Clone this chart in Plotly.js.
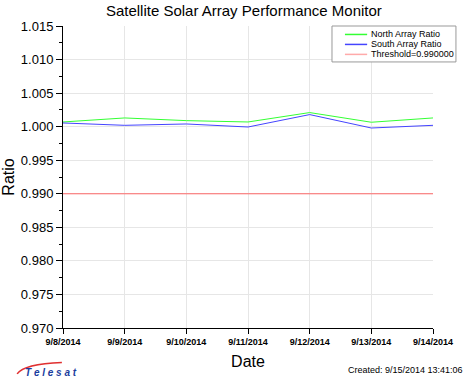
<!DOCTYPE html>
<html><head><meta charset="utf-8">
<script src="https://cdn.plot.ly/plotly-3.0.1.min.js"></script>
<style>html,body{margin:0;padding:0;background:#fff;}#chart{width:469px;height:379px;}</style>
</head><body><div id="chart"></div>
<script>
const dates = ["9/8/2014","9/9/2014","9/10/2014","9/11/2014","9/12/2014","9/13/2014","9/14/2014"];
const northRatio = [1.0007, 1.0013, 1.0009, 1.0007, 1.0021, 1.00066, 1.0013];
const southRatio = [1.00055, 1.0002, 1.0004, 0.99995, 1.0018, 0.9998, 1.0002];
const thresholdValue = 0.99;
const thresholdSeries = dates.map(() => thresholdValue);
const yTicks = [0.970,0.975,0.980,0.985,0.990,0.995,1.000,1.005,1.010,1.015];
const seriesNames = ['North Array Ratio', 'South Array Ratio', 'Threshold=' + thresholdValue.toFixed(6)];
const seriesColors = ['#33ff33', '#4444ff', '#ff6a6a'];

const traces = [
  {x: dates, y: northRatio, type:'scatter', mode:'lines', name:seriesNames[0], line:{color:seriesColors[0], width:1}},
  {x: dates, y: southRatio, type:'scatter', mode:'lines', name:seriesNames[1], line:{color:seriesColors[1], width:1}},
  {x: dates, y: thresholdSeries, type:'scatter', mode:'lines', name:seriesNames[2], line:{color:seriesColors[2], width:1}}
];

// manual legend (compact, like the reference)
const legX0 = 0.727, legX1 = 1.062, legY0 = 0.881, legY1 = 1.0;
const legLineX0 = 0.762, legLineX1 = 0.822, legTextX = 0.826;
const legRows = [0.972, 0.939, 0.906];
const shapes = [
  {type:'rect', xref:'paper', yref:'paper', x0:legX0, x1:legX1, y0:legY0, y1:legY1, fillcolor:'#fff', line:{color:'#999', width:1}, layer:'above'},
  {type:'path', xref:'paper', yref:'paper', path:'M -0.124,-0.152 Q -0.105,-0.118 -0.003,-0.114', line:{color:'#e03030', width:1.5}}
];
const annotations = [];
seriesNames.forEach((n, i) => {
  shapes.push({type:'line', xref:'paper', yref:'paper', x0:legLineX0, x1:legLineX1, y0:legRows[i], y1:legRows[i], line:{color:i === 2 ? '#ffaaaa' : seriesColors[i], width:1.5}, layer:'above'});
  annotations.push({xref:'paper', yref:'paper', x:legTextX, y:legRows[i], xanchor:'left', yanchor:'middle', showarrow:false, text:n, font:{size:9, color:'#000'}});
});
annotations.push(
  {xref:'paper', yref:'paper', x:1.086, y:-0.139, xanchor:'right', yanchor:'middle', showarrow:false,
   text:'Created: 9/15/2014 13:41:06', font:{size:9, color:'#000'}},
  {xref:'paper', yref:'paper', x:-0.032, y:-0.149, xanchor:'center', yanchor:'middle', showarrow:false,
   text:'<b><i>T e l e s a t</i></b>', font:{size:10, color:'#1a3d9e', family:'Liberation Sans, Arial'}}
);

const layout = {
  width:469, height:379,
  margin:{l:63, r:36, t:26, b:51, pad:0},
  paper_bgcolor:'#fff', plot_bgcolor:'#fff',
  font:{family:'Liberation Sans, Arial, sans-serif', color:'#000'},
  title:{text:'Satellite Solar Array Performance Monitor', font:{size:15, color:'#000'}, x:0.52, xanchor:'center', y:0.985, yanchor:'top'},
  xaxis:{
    type:'category', categoryorder:'array', categoryarray:dates, range:[0,6],
    showline:true, linecolor:'#000', linewidth:1, ticks:'outside', ticklen:5, tickcolor:'#000',
    showgrid:true, gridcolor:'#e6e6e6', gridwidth:1,
    tickfont:{size:9, color:'#000', weight:'bold'},
    title:{text:'Date', font:{size:16}, standoff:10}, zeroline:false
  },
  yaxis:{
    range:[0.970,1.015], tickvals:yTicks, ticktext:yTicks.map(v=>v.toFixed(3)),
    showline:true, linecolor:'#000', linewidth:1, ticks:'outside', ticklen:6, tickcolor:'#000',
    minor:{dtick:0.0025, tick0:0.970, ticks:'outside', ticklen:3, tickcolor:'#000', showgrid:false},
    showgrid:true, gridcolor:'#e6e6e6', gridwidth:1,
    tickfont:{size:13, color:'#000'}, zeroline:false,
    title:{text:'Ratio', font:{size:16}, standoff:6}
  },
  showlegend:false,
  annotations: annotations,
  shapes: shapes
};
Plotly.newPlot('chart', traces, layout, {displayModeBar:false, staticPlot:true});
</script></body></html>
